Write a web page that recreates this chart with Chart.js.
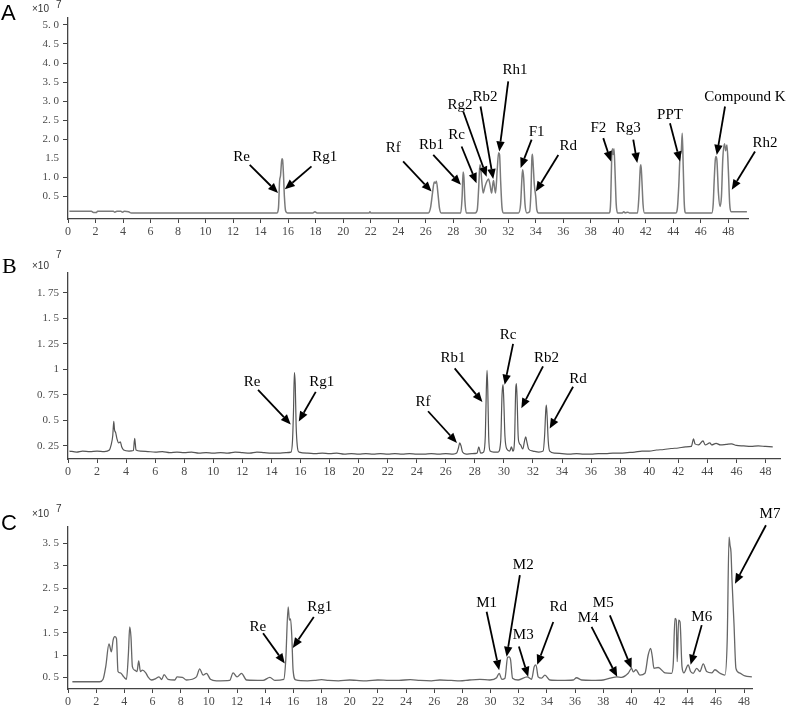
<!DOCTYPE html>
<html><head><meta charset="utf-8">
<script src="https://cdn.jsdelivr.net/npm/chart.js@4.4.1/dist/chart.umd.min.js"></script>
<style>
html,body{margin:0;padding:0;background:#fff;width:789px;height:706px;overflow:hidden}
canvas{position:absolute;left:0}
</style></head><body>
<canvas id="cA" width="789" height="245" style="top:0px"></canvas>
<canvas id="cB" width="789" height="235" style="top:245px"></canvas>
<canvas id="cC" width="789" height="226" style="top:480px"></canvas>
<script>
// ---------- shared axis ticks (retention time, min) ----------
const xTickValues = [0,2,4,6,8,10,12,14,16,18,20,22,24,26,28,30,32,34,36,38,40,42,44,46,48];
const xTickLabels = ['0','2','4','6','8','10','12','14','16','18','20','22','24','26','28','30','32','34','36','38','40','42','44','46','48'];

// ---------- panel A : standards ----------
const aYTickValues = [0.5,1.0,1.5,2.0,2.5,3.0,3.5,4.0,4.5,5.0];
const aYTickLabels = ['0. 5','1. 0','1.5','2. 0','2. 5','3. 0','3. 5','4. 0','4. 5','5. 0'];
const traceA = [
 [0.1,0.11],[1.7,0.11],[1.85,0.08],[2.05,0.08],[2.15,0.11],[3.3,0.11],[3.4,0.09],[3.55,0.11],[3.85,0.11],[3.95,0.09],[4.1,0.11],[4.4,0.1],[4.6,0.07],
 [15.2,0.07],[15.3,0.2],[15.38,0.9],[15.45,1.05],[15.52,1.4],[15.56,1.49],[15.6,1.46],[15.66,1.1],[15.73,0.5],[15.82,0.12],[15.95,0.07],
 [17.8,0.07],[17.95,0.1],[18.1,0.07],[21.9,0.07],[21.95,0.1],[22.0,0.07],
 [26.2,0.07],[26.35,0.2],[26.5,0.6],[26.62,0.88],[26.7,0.85],[26.78,0.9],[26.9,0.55],[27.0,0.2],[27.12,0.07],
 [28.55,0.07],[28.65,0.5],[28.72,1.14],[28.78,1.0],[28.85,0.4],[28.95,0.07],
 [29.6,0.07],[29.75,0.15],[29.85,0.7],[29.94,1.33],[30.0,1.25],[30.08,0.9],[30.18,0.59],[30.3,0.75],[30.45,0.9],[30.57,0.96],[30.68,0.8],[30.79,0.59],[30.87,0.8],[30.93,0.92],[31.0,0.75],[31.08,0.59],[31.2,1.2],[31.3,1.65],[31.37,1.6],[31.45,0.9],[31.55,0.2],[31.65,0.07],
 [32.75,0.07],[32.9,0.3],[33.0,1.0],[33.05,1.2],[33.12,1.0],[33.22,0.3],[33.35,0.07],
 [33.55,0.1],[33.65,0.6],[33.72,1.5],[33.76,1.61],[33.82,1.3],[33.9,0.8],[34.0,0.5],[34.08,0.15],[34.2,0.07],
 [39.35,0.07],[39.45,0.4],[39.52,1.5],[39.57,1.75],[39.63,1.6],[39.69,1.75],[39.75,1.3],[39.85,0.3],[39.95,0.07],
 [40.3,0.07],[40.4,0.1],[40.5,0.07],[40.7,0.09],[40.8,0.07],
 [41.4,0.07],[41.5,0.5],[41.6,1.25],[41.65,1.33],[41.72,0.9],[41.8,0.3],[41.9,0.07],
 [44.2,0.07],[44.3,0.2],[44.4,0.8],[44.49,1.55],[44.58,1.7],[44.65,2.16],[44.72,1.3],[44.8,0.3],[44.9,0.07],
 [46.8,0.07],[46.9,0.3],[46.97,0.9],[47.05,1.45],[47.1,1.55],[47.17,1.45],[47.28,0.6],[47.4,0.24],
 [47.5,0.5],[47.6,1.5],[47.72,1.88],[47.8,1.7],[47.9,1.85],[48.0,1.2],[48.1,0.3],[48.2,0.1],[48.3,0.1],[49.35,0.1]
];
const notesA = [
 {label:'Re', text:[12.61,1.53], from:[13.21,1.33], to:[15.27,0.59]},
 {label:'Rg1', text:[18.67,1.53], from:[17.7,1.29], to:[15.76,0.69]},
 {label:'Rf', text:[23.64,1.77], from:[24.36,1.42], to:[26.43,0.63]},
 {label:'Rb1', text:[26.43,1.86], from:[26.55,1.59], to:[28.56,0.81]},
 {label:'Rc', text:[28.25,2.12], from:[28.61,1.81], to:[29.7,0.85]},
 {label:'Rg2', text:[28.49,2.9], from:[28.73,2.73], to:[30.43,1.02]},
 {label:'Rb2', text:[30.31,3.12], from:[29.99,2.86], to:[30.91,0.96]},
 {label:'Rh1', text:[32.49,3.82], from:[32.0,3.52], to:[31.35,1.68]},
 {label:'F1', text:[34.07,2.2], from:[33.7,1.99], to:[32.9,1.25]},
 {label:'Rd', text:[36.36,1.83], from:[35.64,1.59], to:[34.01,0.63]},
 {label:'F2', text:[38.55,2.29], from:[38.91,2.03], to:[39.47,1.42]},
 {label:'Rg3', text:[40.73,2.29], from:[41.09,1.99], to:[41.38,1.38]},
 {label:'PPT', text:[43.76,2.64], from:[43.76,2.42], to:[44.49,1.42]},
 {label:'Compound K', text:[49.21,3.12], from:[47.76,2.86], to:[47.16,1.59]},
 {label:'Rh2', text:[50.67,1.9], from:[49.94,1.68], to:[48.25,0.68]}
];

// ---------- panel B ----------
const bYTickValues = [0.25,0.5,0.75,1,1.25,1.5,1.75];
const bYTickLabels = ['0. 25','0. 5','0. 75','1','1. 25','1. 5','1. 75'];
const traceB = [
 [0.1,0.2],[0.6,0.19],[1.0,0.2],[1.5,0.195],[2.0,0.2],[2.5,0.195],[2.85,0.21],[2.95,0.25],[3.08,0.35],[3.15,0.49],[3.2,0.41],[3.28,0.38],[3.37,0.32],[3.49,0.28],[3.6,0.29],[3.7,0.24],[3.83,0.21],
 [4.2,0.2],[4.5,0.205],[4.59,0.325],[4.68,0.21],[5.0,0.2],[5.5,0.195],[6.0,0.19],[6.5,0.195],[7.0,0.185],[7.5,0.19],[8.0,0.185],[8.5,0.19],[9.0,0.18],[9.5,0.185],[10.0,0.18],[10.5,0.185],[11.0,0.18],[11.5,0.19],[12.0,0.185],[12.5,0.18],[13.0,0.19],[13.5,0.185],[14.0,0.18],[14.5,0.18],[15.0,0.185],
 [15.35,0.19],[15.45,0.3],[15.52,0.6],[15.58,0.97],[15.64,0.85],[15.7,0.45],[15.78,0.25],[15.9,0.19],
 [16.5,0.18],[17.0,0.175],[17.5,0.18],[18.0,0.175],[18.5,0.18],[19.0,0.17],[19.5,0.175],[20.0,0.17],[20.5,0.175],[21.0,0.17],[21.5,0.175],[22.0,0.17],[22.5,0.175],[23.0,0.17],[23.5,0.175],[24.0,0.17],[24.5,0.17],[25.0,0.175],[25.5,0.17],[26.0,0.175],[26.5,0.17],
 [26.75,0.18],[26.87,0.23],[26.96,0.28],[27.05,0.25],[27.15,0.19],[27.4,0.17],[27.8,0.175],[28.15,0.18],[28.27,0.24],[28.4,0.18],
 [28.6,0.19],[28.72,0.35],[28.79,0.8],[28.84,0.99],[28.89,0.8],[28.95,0.35],[29.05,0.2],[29.3,0.19],[29.6,0.19],
 [29.78,0.3],[29.87,0.75],[29.94,0.85],[29.99,0.7],[30.07,0.35],[30.2,0.22],[30.4,0.2],[30.52,0.24],[30.62,0.2],
 [30.73,0.3],[30.81,0.8],[30.86,0.86],[30.91,0.7],[30.98,0.35],[31.05,0.28],[31.15,0.26],[31.3,0.22],[31.42,0.3],[31.5,0.34],[31.58,0.29],[31.7,0.22],[32.0,0.2],[32.4,0.19],
 [32.7,0.2],[32.8,0.35],[32.88,0.6],[32.92,0.65],[32.97,0.55],[33.05,0.3],[33.15,0.2],[33.5,0.18],
 [34.0,0.175],[34.5,0.17],[35.0,0.175],[35.5,0.17],[36.0,0.17],[36.5,0.175],[37.0,0.175],[37.5,0.18],[38.0,0.18],[38.5,0.185],[39.0,0.19],[39.5,0.2],[40.0,0.2],[40.5,0.21],[41.0,0.215],[41.5,0.225],[42.0,0.23],[42.5,0.24],[42.9,0.245],
 [43.05,0.32],[43.15,0.27],[43.4,0.26],[43.7,0.3],[43.85,0.26],[44.17,0.28],[44.3,0.26],[44.6,0.275],[44.9,0.26],[45.3,0.265],[45.66,0.27],[46.0,0.255],[46.5,0.25],[47.0,0.245],[47.5,0.25],[48.0,0.245],[48.5,0.24]
];
const notesB = [
 {label:'Re', text:[12.66,0.88], from:[13.08,0.8], to:[15.33,0.46]},
 {label:'Rg1', text:[17.46,0.88], from:[17.05,0.78], to:[15.88,0.49]},
 {label:'Rf', text:[24.43,0.68], from:[24.78,0.59], to:[26.77,0.28]},
 {label:'Rb1', text:[26.5,1.11], from:[26.61,1.01], to:[28.52,0.68]},
 {label:'Rc', text:[30.28,1.34], from:[30.63,1.25], to:[30.05,0.85]},
 {label:'Rb2', text:[32.93,1.11], from:[32.69,1.03], to:[31.2,0.62]},
 {label:'Rd', text:[35.1,0.91], from:[34.76,0.83], to:[33.15,0.42]}
];

// ---------- panel C ----------
const cYTickValues = [0.5,1,1.5,2,2.5,3,3.5];
const cYTickLabels = ['0. 5','1','1. 5','2','2. 5','3','3. 5'];
const traceC = [
 [0.31,0.40],[2.25,0.40],[2.49,0.455],[2.68,0.74],[2.91,1.25],[3.08,1.07],[3.2,1.33],[3.32,1.41],[3.44,1.37],[3.55,0.63],[3.72,0.6],[3.96,0.51],[4.15,0.455],[4.29,1.04],[4.38,1.63],[4.47,1.41],[4.57,0.74],[4.74,0.66],[4.9,0.63],[5.02,0.87],[5.14,0.63],[5.28,0.66],[5.52,0.6],[5.68,0.51],[5.92,0.44],[6.23,0.47],[6.46,0.51],[6.65,0.45],[6.82,0.56],[7.1,0.455],[7.58,0.44],[7.74,0.51],[8.12,0.5],[8.41,0.44],[9.12,0.51],[9.35,0.69],[9.59,0.55],[9.83,0.59],[10.11,0.455],[10.54,0.42],[11.48,0.43],[11.72,0.6],[12.0,0.51],[12.32,0.59],[12.67,0.44],[13.85,0.43],[14.33,0.5],[14.68,0.43],[15.32,0.455],
 [15.46,0.89],[15.63,2.08],[15.72,1.78],[15.8,1.81],[15.89,1.41],[15.98,0.66],[16.17,0.44],
 [17.0,0.42],[17.5,0.43],[18.0,0.45],[18.5,0.43],[19.2,0.42],[20.0,0.44],[20.5,0.43],[21.2,0.42],[22.0,0.44],[22.8,0.43],[23.5,0.43],[24.3,0.45],[25.0,0.43],[25.8,0.42],[26.4,0.44],[27.2,0.43],[27.82,0.42],[28.5,0.44],[29.24,0.455],[29.95,0.44],
 [30.43,0.49],[30.61,0.59],[30.8,0.455],[31.02,0.48],[31.21,0.95],[31.32,0.96],[31.42,0.89],[31.56,0.48],[31.96,0.44],[32.6,0.51],[32.91,0.455],[33.1,0.74],[33.22,0.78],[33.38,0.51],[33.62,0.48],[33.86,0.55],[34.21,0.44],[35.0,0.43],[35.87,0.44],[36.1,0.49],[36.46,0.44],[37.2,0.43],[38.0,0.44],
 [38.95,0.51],[39.3,0.5],[39.77,0.59],[40.01,0.70],[40.13,0.62],[40.32,0.67],[40.6,0.55],[40.96,0.59],[41.19,1.0],[41.36,1.15],[41.48,0.97],[41.6,0.7],[41.9,0.72],[42.38,0.6],[42.85,0.59],
 [42.97,0.81],[43.09,1.82],[43.18,1.78],[43.25,0.85],[43.35,1.78],[43.45,1.74],[43.59,0.74],[43.73,0.6],[44.03,0.78],[44.2,0.63],[44.39,0.59],[44.63,0.7],[44.86,0.63],[45.1,0.8],[45.34,0.63],[45.7,0.6],[45.93,0.67],[46.29,0.59],[46.64,0.55],
 [46.8,1.33],[46.93,3.64],[47.0,3.46],[47.07,3.3],[47.14,2.68],[47.28,1.71],[47.42,0.7],[47.66,0.6],[48.06,0.53],[48.55,0.51]
];
const notesC = [
 {label:'Re', text:[13.47,1.63], from:[13.85,1.49], to:[15.39,0.81]},
 {label:'Rg1', text:[17.88,2.07], from:[17.45,1.85], to:[15.96,1.16]},
 {label:'M1', text:[29.72,2.16], from:[29.72,1.97], to:[30.61,0.66]},
 {label:'M2', text:[32.32,3.01], from:[32.08,2.79], to:[31.14,0.96]},
 {label:'M3', text:[32.32,1.45], from:[32.01,1.19], to:[32.67,0.51]},
 {label:'Rd', text:[34.8,2.08], from:[34.45,1.74], to:[33.31,0.78]},
 {label:'M4', text:[36.93,1.82], from:[37.17,1.63], to:[38.99,0.51]},
 {label:'M5', text:[38.0,2.16], from:[38.47,1.89], to:[40.01,0.7]},
 {label:'M6', text:[44.99,1.86], from:[44.99,1.67], to:[44.2,0.78]},
 {label:'M7', text:[49.84,4.16], from:[49.55,3.91], to:[47.35,2.6]}
];

// ---------- drawing ----------
const AXIS = '#444', TICKTXT = '#4a4a4a';

function drawArrow(c, x1, y1, x2, y2) {
  const ang = Math.atan2(y2 - y1, x2 - x1), L = 10, W = 4.2;
  const bx = x2 - L * Math.cos(ang), by = y2 - L * Math.sin(ang);
  c.beginPath(); c.moveTo(x1, y1); c.lineTo(bx, by); c.lineWidth = 1.8; c.stroke();
  c.beginPath(); c.moveTo(x2, y2);
  c.lineTo(bx + W * Math.sin(ang), by - W * Math.cos(ang));
  c.lineTo(bx - W * Math.sin(ang), by + W * Math.cos(ang));
  c.closePath(); c.fill();
}

function notesPlugin(p) {
  return {
    id: 'notes' + p.id,
    afterDraw(chart) {
      const c = chart.ctx, xs = chart.scales.x, ys = chart.scales.y;
      c.save();
      c.fillStyle = '#000'; c.strokeStyle = '#000';
      c.font = '15px "Liberation Serif", "Times New Roman", serif';
      c.textAlign = 'center'; c.textBaseline = 'middle';
      p.notes.forEach(n => {
        c.fillText(n.label, xs.getPixelForValue(n.text[0]), ys.getPixelForValue(n.text[1]));
        drawArrow(c, xs.getPixelForValue(n.from[0]), ys.getPixelForValue(n.from[1]),
                     xs.getPixelForValue(n.to[0]), ys.getPixelForValue(n.to[1]));
      });
      // panel letter and exponent
      const h = p.head;
      c.textAlign = 'left'; c.textBaseline = 'alphabetic';
      c.font = h.letterFont;
      c.fillText(h.letter, h.lx, h.ly);
      c.fillStyle = '#333';
      c.font = '10px "Liberation Sans", sans-serif';
      c.fillText('\u00d710', 32, h.ey);
      c.fillText('7', 56, h.sy);
      c.restore();
    }
  };
}

function makePanel(p) {
  return new Chart(document.getElementById(p.id), {
    type: 'line',
    data: { datasets: [{
      data: p.trace.map(d => ({ x: d[0], y: d[1] })),
      borderColor: p.color, borderWidth: p.lineW, pointRadius: 0, fill: false,
      cubicInterpolationMode: 'monotone'
    }] },
    options: {
      responsive: false, animation: false, events: [],
      layout: { padding: { left: 0, right: p.padRight, top: p.padTop, bottom: 0 } },
      plugins: { legend: { display: false }, tooltip: { enabled: false } },
      scales: {
        x: {
          type: 'linear', min: 0, max: p.xMax,
          afterBuildTicks: s => { s.ticks = xTickValues.map(v => ({ value: v })); },
          afterFit: s => { s.height = p.xAxisH; },
          ticks: { autoSkip: false, maxRotation: 0, padding: 2, color: TICKTXT,
                   font: { family: '"Liberation Serif", serif', size: 12 },
                   callback: v => xTickLabels[xTickValues.indexOf(v)] },
          grid: { drawOnChartArea: false, drawTicks: true, tickLength: 4, color: AXIS, tickColor: AXIS },
          border: { display: true, color: AXIS, width: 1.3 }
        },
        y: {
          type: 'linear', min: p.yMin, max: p.yMax,
          afterBuildTicks: s => { s.ticks = p.yTicks.map(v => ({ value: v })); },
          afterFit: s => { s.width = 68; },
          ticks: { autoSkip: false, padding: 4, color: TICKTXT,
                   font: { family: '"Liberation Serif", serif', size: 11 },
                   callback: v => p.yLabels[p.yTicks.indexOf(v)] },
          grid: { drawOnChartArea: false, drawTicks: true, tickLength: 5, color: AXIS,
                  tickColor: ctx => (ctx.tick && ctx.tick.value === p.noTick) ? 'rgba(0,0,0,0)' : AXIS },
          border: { display: true, color: AXIS, width: 1.3 }
        }
      }
    },
    plugins: [notesPlugin(p)]
  });
}

makePanel({ id: 'cA', trace: traceA, notes: notesA, color: '#7a7a7a', lineW: 1.5,
  xMax: 49.43, yMin: -0.09, yMax: 5.18, padTop: 18, padRight: 41, xAxisH: 26,
  yTicks: aYTickValues, yLabels: aYTickLabels, noTick: 1.5,
  head: { letter: 'A', letterFont: '22px "Liberation Sans", sans-serif', lx: 1, ly: 20, ey: 12, sy: 8 } });

makePanel({ id: 'cB', trace: traceB, notes: notesB, color: '#555', lineW: 1.2,
  xMax: 49.0, yMin: 0.122, yMax: 1.945, padTop: 28, padRight: 9, xAxisH: 21,
  yTicks: bYTickValues, yLabels: bYTickLabels, noTick: null,
  head: { letter: 'B', letterFont: '22px "Liberation Serif", serif', lx: 2, ly: 28, ey: 24, sy: 13 } });

makePanel({ id: 'cC', trace: traceC, notes: notesC, color: '#666', lineW: 1.3,
  xMax: 48.56, yMin: 0.238, yMax: 3.87, padTop: 47, padRight: 37, xAxisH: 17,
  yTicks: cYTickValues, yLabels: cYTickLabels, noTick: null,
  head: { letter: 'C', letterFont: '22px "Liberation Sans", sans-serif', lx: 1, ly: 50, ey: 37, sy: 32 } });
</script>
</body></html>
